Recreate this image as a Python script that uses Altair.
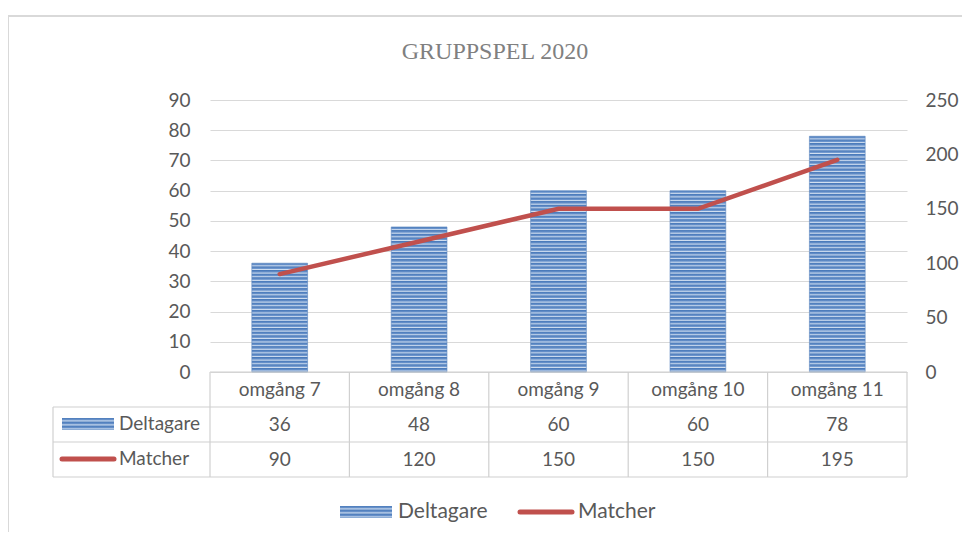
import altair as alt
import pandas as pd

# ---- data ----
categories = ["omgång 7", "omgång 8", "omgång 9", "omgång 10", "omgång 11"]
deltagare = [36, 48, 60, 60, 78]
matcher = [90, 120, 150, 150, 195]
left_ticks = [0, 10, 20, 30, 40, 50, 60, 70, 80, 90]
right_ticks = [0, 50, 100, 150, 200, 250]
title_text = "GRUPPSPEL 2020"
series_names = ["Deltagare", "Matcher"]

df = pd.DataFrame({"cat": categories, "Deltagare": deltagare, "Matcher": matcher})

# ---- layout / style ----
W, H = 697, 272
FONT = "Lato"
FS = 19
TXT = "#595959"
GRID = "#d9d9d9"
TABLE = "#d0d0d0"
RED = "#C0504D"
LEFT_MAX, RIGHT_MAX = 90, 250
STRIPE_PX = 3.6


def stripes(n):
    stops = []
    for k in range(n):
        a = k / n
        stops += [
            alt.GradientStop(offset=a, color="#4a7aba"),
            alt.GradientStop(offset=a + 0.45 / n, color="#6a93cb"),
            alt.GradientStop(offset=a + 0.75 / n, color="#d2e0f1"),
        ]
    stops.append(alt.GradientStop(offset=1, color="#4a7aba"))
    return alt.LinearGradient(gradient="linear", x1=0, y1=0, x2=0, y2=1, stops=stops)


x_enc = alt.X("cat:N", sort=categories, axis=None,
              scale=alt.Scale(paddingInner=0.6, paddingOuter=0.3))

# bars, one layer per category so stripe pitch is constant
bar_layers = []
for i, c in enumerate(categories):
    n = max(2, round(deltagare[i] / LEFT_MAX * H / STRIPE_PX))
    bar_layers.append(
        alt.Chart(df).transform_filter(alt.datum.cat == c)
        .mark_bar(color=stripes(n), stroke="#5a86c0", strokeWidth=0.6)
        .encode(
            x=x_enc,
            y=alt.Y("Deltagare:Q",
                    scale=alt.Scale(domain=[0, LEFT_MAX], nice=False),
                    axis=alt.Axis(values=left_ticks, grid=True, gridColor=GRID,
                                  ticks=False, domain=False, labelPadding=20,
                                  labelFont=FONT, labelFontSize=FS, labelColor=TXT,
                                  title=None, orient="left")),
        )
    )
bars = alt.layer(*bar_layers)

line = alt.Chart(df).mark_line(color=RED, strokeWidth=4.5, strokeCap="round").encode(
    x=x_enc,
    y=alt.Y("Matcher:Q",
            scale=alt.Scale(domain=[0, RIGHT_MAX], nice=False),
            axis=alt.Axis(values=right_ticks, grid=False, ticks=False, domain=False,
                          labelPadding=18, labelFont=FONT, labelFontSize=FS,
                          labelColor=TXT, labelAlign="left", title=None, orient="right")),
)

main = alt.layer(bars, line).resolve_scale(y="independent")

# ---- data table under the plot ----
def rule(x1, x2, y1, y2, color=TABLE, width=1.2):
    return alt.Chart(alt.Data(values=[{}])).mark_rule(color=color, strokeWidth=width).encode(
        x=alt.value(x1), x2=alt.value(x2), y=alt.value(y1), y2=alt.value(y2))

table_layers = []
row_y = [290, 325, 360]
for yy in [272, 307, 342, 377]:
    table_layers.append(rule(0 if yy == 272 else -157, W, yy, yy))
table_layers.append(rule(-157, -157, 307, 377))
for k in range(len(categories) + 1):
    xx = W * k / len(categories)
    table_layers.append(rule(xx, xx, 272, 377))

cat_text = alt.Chart(df).mark_text(font=FONT, fontSize=FS, color=TXT, baseline="middle").encode(
    x=x_enc, y=alt.value(row_y[0]), text="cat:N")
val_d = alt.Chart(df).mark_text(font=FONT, fontSize=FS, color=TXT, baseline="middle").encode(
    x=x_enc, y=alt.value(row_y[1]), text="Deltagare:Q")
val_m = alt.Chart(df).mark_text(font=FONT, fontSize=FS, color=TXT, baseline="middle").encode(
    x=x_enc, y=alt.value(row_y[2]), text="Matcher:Q")


def swatch_bar(x1, x2, yc):
    return alt.Chart(alt.Data(values=[{}])).mark_rect(color=stripes(3)).encode(
        x=alt.value(x1), x2=alt.value(x2), y=alt.value(yc - 6), y2=alt.value(yc + 6))


def swatch_line(x1, x2, yc):
    return alt.Chart(alt.Data(values=[{}])).mark_rule(
        color=RED, strokeWidth=5, strokeCap="round").encode(
        x=alt.value(x1), x2=alt.value(x2), y=alt.value(yc), y2=alt.value(yc))


def label(txt, x, y, size=FS, align="left", color=TXT, font=FONT):
    return alt.Chart(alt.Data(values=[{"t": txt}])).mark_text(
        font=font, fontSize=size, color=color, align=align, baseline="middle").encode(
        x=alt.value(x), y=alt.value(y), text="t:N")


table_layers += [
    cat_text, val_d, val_m,
    swatch_bar(-148, -96, 324), label(series_names[0], -91, 324),
    swatch_line(-148, -96, 359), label(series_names[1], -91, 359),
    # bottom legend
    swatch_bar(130, 182, 412), label(series_names[0], 188, 412, size=21),
    swatch_line(310, 362, 412), label(series_names[1], 368, 412, size=21),
    # title
    label(title_text, 285, -48, size=24, align="center", color="#808080",
          font="Liberation Serif"),
    # chart frame
    rule(-202, -202, -84, 440, color="#d9d9d9", width=2),
    rule(-202, 760, -84, -84, color="#d9d9d9", width=2),
]

chart = alt.layer(main, *table_layers).properties(
    width=W, height=H,
    autosize=alt.AutoSizeParams(type="none"),
    padding={"left": 202, "top": 92, "right": 55, "bottom": 160},
).configure_view(stroke=None)

chart.save("out.html", embed_options={"renderer": "svg", "actions": False})
